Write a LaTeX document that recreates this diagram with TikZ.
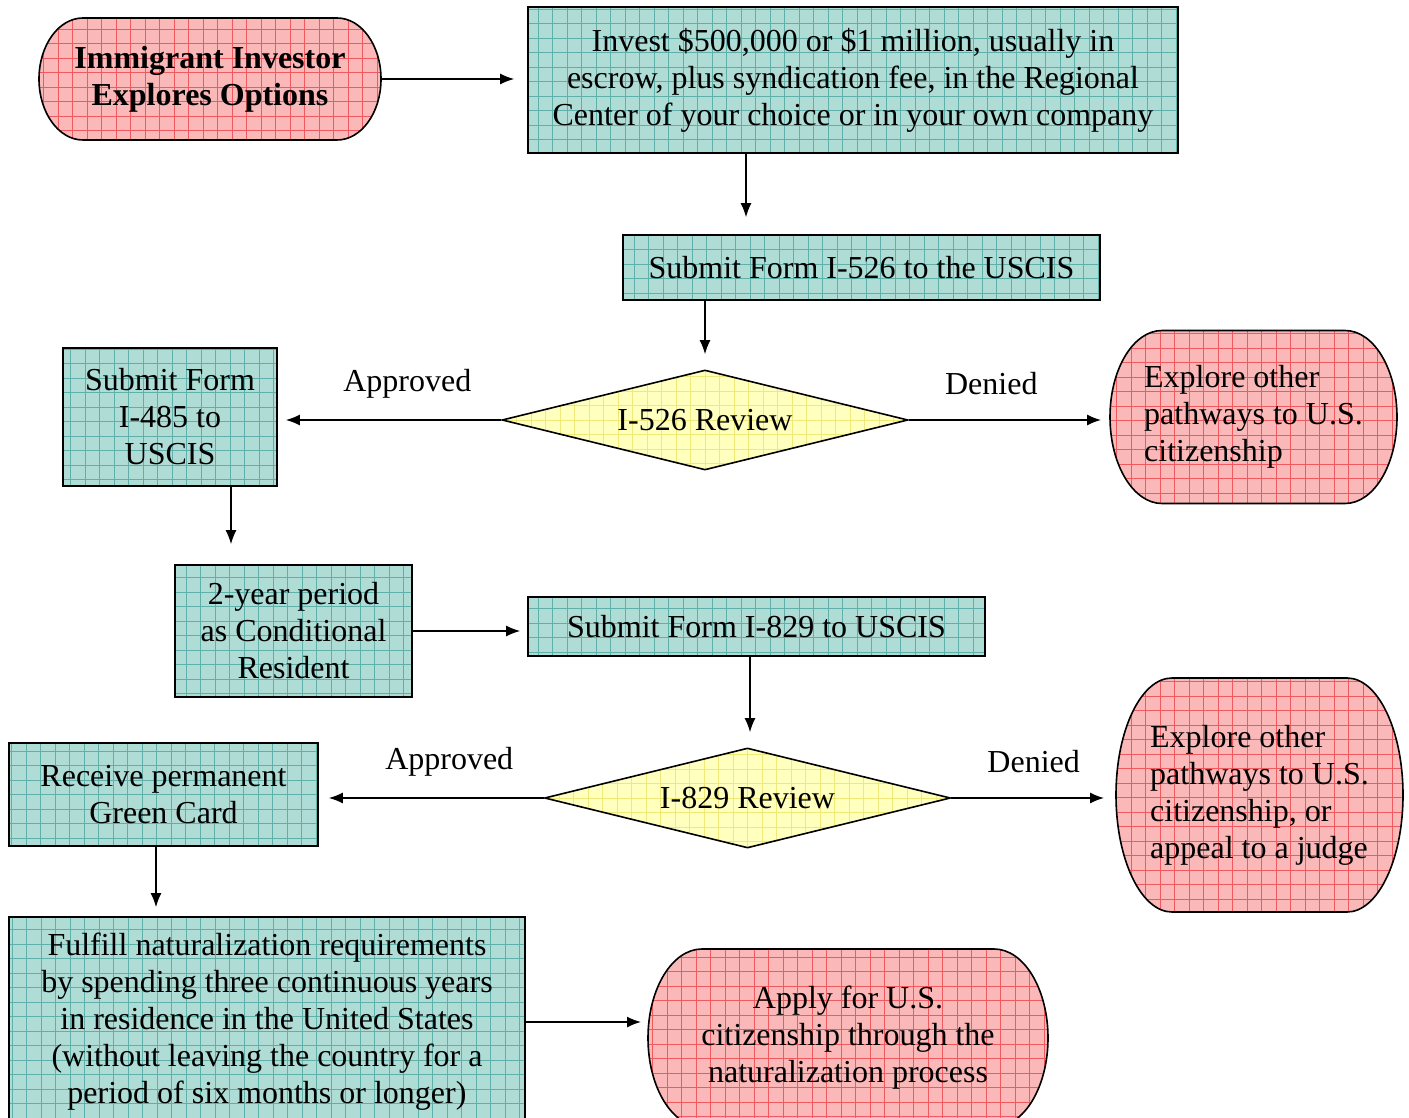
\documentclass[tikz,border=0pt]{standalone}
\usepackage{fontspec}
\setmainfont{Liberation Serif}
\usetikzlibrary{shapes.geometric,arrows.meta,calc,backgrounds}

\definecolor{tealfill}{RGB}{176,220,214}
\definecolor{tealgrid}{RGB}{95,175,170}
\definecolor{pinkfill}{RGB}{250,184,184}
\definecolor{pinkgrid}{RGB}{240,90,95}
\definecolor{yelfill}{RGB}{255,255,190}
\definecolor{yelgrid}{RGB}{240,232,120}

\tikzset{
  gridfill/.style={path picture={
      \draw[#1, line width=0.35pt, step=7.25pt]
        (path picture bounding box.south west) grid (path picture bounding box.north east);}},
  stepbox/.style={draw, line width=0.8pt, fill=tealfill, gridfill=tealgrid,
    align=center, inner sep=2pt},
  endbox/.style={inner sep=2pt, outer sep=0pt},
  endframe/.style={draw, line width=0.8pt, fill=pinkfill, gridfill=pinkgrid},
  review/.style={diamond, aspect=4, draw, line width=0.8pt, fill=yelfill,
    gridfill=yelgrid, inner sep=0pt, minimum width=203pt, minimum height=50pt},
  arr/.style={line width=0.75pt, -{Latex[length=7pt,width=5.5pt]}, shorten >=5pt},
}

% terminator outline round a node: #1 node, #2 x radius of the ends
\newcommand\termframe[2]{%
  \path[endframe] let \p1=(#1.north), \p2=(#1.south) in
    ([xshift=#2]#1.north west)
    arc[start angle=90, end angle=270, x radius=#2, y radius={(\y1-\y2)/2}]
    -- ([xshift=-#2]#1.south east)
    arc[start angle=-90, end angle=90, x radius=#2, y radius={(\y1-\y2)/2}]
    -- cycle;}

\begin{document}
\begin{tikzpicture}[x=0.5pt, y=-0.5pt, font=\fontsize{16}{18.5}\selectfont]
  \useasboundingbox (0,0) rectangle (1409,1118);

  \node[endbox, align=center, minimum width=171pt, minimum height=61pt,
        font=\fontsize{16}{18.5}\selectfont\bfseries]
    (start) at (210,79) {Immigrant Investor\\Explores Options};

  \node[stepbox, minimum width=325pt, minimum height=73pt] (invest) at (853,80)
    {Invest \$500,000 or \$1 million, usually in\\escrow, plus syndication fee, in the Regional\\Center of your choice or in your own company};

  \node[stepbox, minimum width=238.5pt, minimum height=32.5pt] (i526) at (861.5,267.5)
    {Submit Form I-526 to the USCIS};

  \node[review] (rev526) at (705,420) {I-526 Review};

  \node[stepbox, minimum width=107pt, minimum height=69pt] (i485) at (170,417)
    {Submit Form\\I-485 to\\USCIS};

  \node[endbox, align=left, minimum width=143.5pt, minimum height=86.5pt]
    (deny1) at (1253.5,417) {Explore other\\pathways to U.S.\\citizenship};

  \node[stepbox, minimum width=118.5pt, minimum height=66pt] (cond) at (293.5,631)
    {2-year period\\as Conditional\\Resident};

  \node[stepbox, minimum width=228.5pt, minimum height=29.5pt] (i829) at (756.5,626.5)
    {Submit Form I-829 to USCIS};

  \node[review] (rev829) at (747.5,798) {I-829 Review};

  \node[stepbox, minimum width=154.5pt, minimum height=51.5pt] (green) at (163.5,794.5)
    {Receive permanent\\Green Card};

  \node[endbox, align=left, minimum width=143.5pt, minimum height=117pt]
    (deny2) at (1259.5,795) {Explore other\\pathways to U.S.\\citizenship, or\\appeal to a judge};

  \node[stepbox, minimum width=258pt, minimum height=105pt] (natur) at (267,1022)
    {Fulfill naturalization requirements\\by spending three continuous years\\in residence in the United States\\(without leaving the country for a\\period of six months or longer)};

  \node[endbox, align=center, minimum width=200pt, minimum height=89pt]
    (apply) at (848,1038) {Apply for U.S.\\citizenship through the\\naturalization process};

  \begin{scope}[on background layer]
    \termframe{start}{22pt}
    \termframe{deny1}{26pt}
    \termframe{deny2}{28pt}
    \termframe{apply}{27pt}
  \end{scope}

  \draw[arr, shorten >=6.5pt] (start.east) -- (start.east -| invest.west);
  \draw[arr, shorten >=8.5pt] (invest.south -| 746,0) -- (i526.north -| 746,0);
  \draw[arr, shorten >=7.5pt] (i526.south -| rev526.north) -- (rev526.north);
  \draw[arr, shorten >=4pt] (rev526.west) -- (rev526.west -| i485.east)
    node[pos=0.42, above=7pt] {Approved};
  \draw[arr, shorten >=4.5pt] (rev526.east) -- (rev526.east -| deny1.west)
    node[pos=0.41, above=9pt] {Denied};
  \draw[arr, shorten >=10pt] (i485.south -| 231,0) -- (cond.north -| 231,0);
  \draw[arr, shorten >=3.5pt] (cond.east) -- (cond.east -| i829.west);
  \draw[arr, shorten >=7.5pt] (i829.south -| 750,0) -- (rev829.north -| 750,0);
  \draw[arr, shorten >=5pt] (rev829.west) -- (rev829.west -| green.east)
    node[pos=0.42, above=7pt] {Approved};
  \draw[arr, shorten >=6pt] (rev829.east) -- (rev829.east -| deny2.west)
    node[pos=0.5, above=9pt] {Denied};
  \draw[arr, shorten >=4.5pt] (green.south -| 156,0) -- (natur.north -| 156,0);
  \draw[arr, shorten >=3.5pt] (natur.east) -- (natur.east -| apply.west);
\end{tikzpicture}
\end{document}
